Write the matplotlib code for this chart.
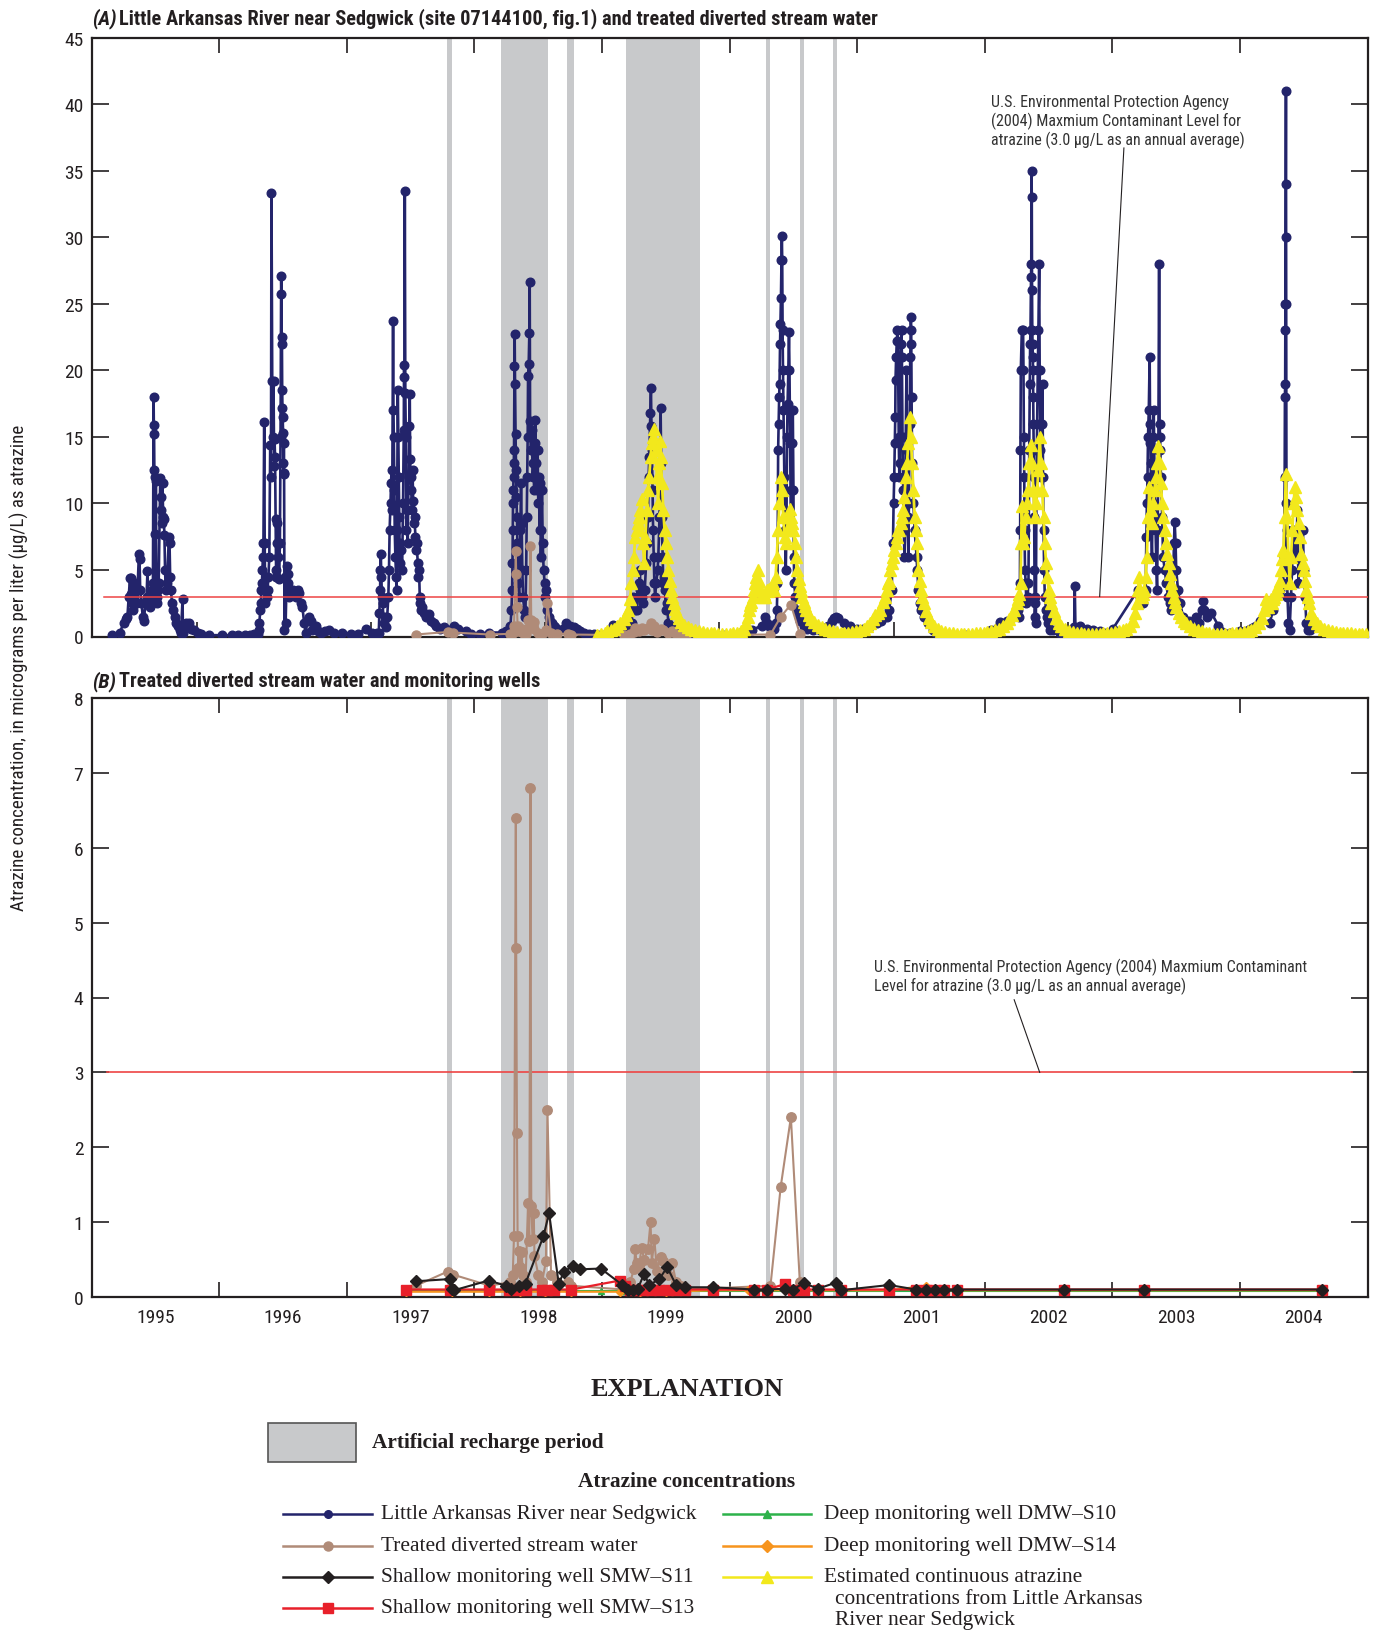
import matplotlib
matplotlib.use("Agg")
import matplotlib.pyplot as plt
from matplotlib import font_manager as fm
from matplotlib.lines import Line2D
from matplotlib.patches import Rectangle
import numpy as np

# ---------------------------------------------------------------- data
# Artificial recharge periods (decimal year start, end)
recharge_periods = [(1997.785, 1997.824), (1998.207, 1998.574), (1998.723, 1998.777),
                    (1999.184, 1999.770), (2000.285, 2000.316), (2000.551, 2000.582),
                    (2000.809, 2000.840)]

mcl_value = 3.0

# Little Arkansas River near Sedgwick (decimal year, atrazine ug/L)
river_samples = [
    (1995.16, 0.1), (1995.22, 0.3), (1995.25, 1.0), (1995.27, 1.3), (1995.28, 1.5), (1995.29, 3.0),
    (1995.30, 4.4), (1995.305, 3.2), (1995.31, 4.4), (1995.315, 2.5), (1995.32, 2.0), (1995.33, 3.0),
    (1995.34, 4.0), (1995.345, 3.5), (1995.355, 2.5), (1995.37, 6.2), (1995.375, 5.8), (1995.38, 3.5),
    (1995.39, 2.5), (1995.40, 1.5), (1995.41, 1.2), (1995.42, 2.5), (1995.43, 3.0), (1995.437, 4.9),
    (1995.445, 3.0), (1995.455, 2.2), (1995.465, 2.8), (1995.475, 3.5), (1995.48, 4.0), (1995.485, 18.0),
    (1995.487, 15.9), (1995.489, 15.2), (1995.491, 12.5), (1995.493, 12.0), (1995.495, 7.7), (1995.498, 4.0),
    (1995.503, 11.7), (1995.508, 3.0), (1995.515, 2.5), (1995.52, 3.5), (1995.525, 4.0), (1995.537, 11.9),
    (1995.54, 10.5), (1995.545, 9.5), (1995.55, 8.5), (1995.555, 11.5), (1995.56, 9.0), (1995.565, 8.8),
    (1995.57, 7.6), (1995.575, 5.0), (1995.58, 3.5), (1995.59, 4.0), (1995.605, 7.5), (1995.61, 7.0),
    (1995.615, 4.5), (1995.62, 3.5), (1995.63, 2.5), (1995.64, 2.0), (1995.65, 1.5), (1995.66, 1.0),
    (1995.675, 0.8), (1995.69, 0.5), (1995.70, 0.3), (1995.712, 2.8), (1995.715, 0.3), (1995.72, 0.8),
    (1995.738, 1.0), (1995.764, 1.0), (1995.78, 0.6), (1995.803, 0.5), (1995.83, 0.3), (1995.855, 0.2),
    (1995.92, 0.1), (1996.025, 0.1), (1996.10, 0.1),
    (1996.15, 0.1), (1996.20, 0.1), (1996.24, 0.15), (1996.27, 0.2), (1996.30, 0.2), (1996.31, 0.5),
    (1996.315, 1.0), (1996.32, 2.0), (1996.325, 2.5), (1996.33, 3.5), (1996.334, 4.0), (1996.338, 5.0),
    (1996.342, 6.0), (1996.346, 7.0), (1996.352, 16.1), (1996.356, 7.0), (1996.36, 2.5), (1996.365, 4.5),
    (1996.372, 3.0), (1996.378, 3.5), (1996.385, 4.5), (1996.392, 6.0), (1996.399, 14.4), (1996.405, 12.0),
    (1996.409, 33.3), (1996.415, 19.2), (1996.42, 15.0), (1996.425, 19.2), (1996.43, 12.8), (1996.433, 14.8),
    (1996.437, 13.5), (1996.441, 8.8), (1996.445, 5.0), (1996.448, 4.5), (1996.452, 7.0), (1996.456, 8.5),
    (1996.462, 6.0), (1996.469, 4.3), (1996.475, 7.0), (1996.480, 15.0), (1996.485, 27.1), (1996.487, 25.7),
    (1996.489, 22.5), (1996.491, 22.0), (1996.493, 18.5), (1996.495, 17.2), (1996.497, 16.5), (1996.50, 15.3),
    (1996.502, 13.0), (1996.504, 12.3), (1996.506, 14.5), (1996.508, 12.2), (1996.511, 0.5), (1996.515, 4.5),
    (1996.52, 1.0), (1996.53, 5.3), (1996.535, 4.0), (1996.54, 4.7), (1996.548, 3.0), (1996.56, 3.5),
    (1996.574, 3.5), (1996.59, 3.2), (1996.60, 3.0), (1996.615, 3.5), (1996.626, 3.3), (1996.64, 2.5),
    (1996.652, 2.2), (1996.665, 1.0), (1996.678, 0.3), (1996.69, 1.2), (1996.704, 1.5), (1996.72, 1.2),
    (1996.73, 0.5), (1996.745, 0.8), (1996.756, 0.8), (1996.775, 0.4), (1996.795, 0.3), (1996.83, 0.4),
    (1996.86, 0.5), (1996.90, 0.3), (1996.965, 0.3),
    (1997.03, 0.2), (1997.09, 0.2), (1997.146, 0.6), (1997.198, 0.3), (1997.237, 0.3), (1997.25, 0.3),
    (1997.255, 1.8), (1997.26, 3.5), (1997.263, 5.0), (1997.266, 6.2), (1997.27, 4.5), (1997.275, 3.0),
    (1997.28, 2.5), (1997.289, 1.0), (1997.30, 1.5), (1997.31, 0.7), (1997.316, 1.5), (1997.325, 3.0),
    (1997.33, 5.0), (1997.335, 8.0), (1997.342, 10.0), (1997.346, 11.5), (1997.35, 12.5), (1997.355, 9.5),
    (1997.362, 23.7), (1997.365, 17.0), (1997.368, 15.0), (1997.372, 11.0), (1997.375, 8.0), (1997.38, 6.0),
    (1997.385, 4.5), (1997.389, 3.5), (1997.393, 8.0), (1997.399, 18.5), (1997.403, 15.0), (1997.406, 12.0),
    (1997.409, 9.0), (1997.413, 7.0), (1997.42, 5.5), (1997.427, 6.5), (1997.433, 5.0), (1997.44, 10.0),
    (1997.446, 15.5), (1997.448, 20.4), (1997.451, 19.5), (1997.454, 33.5), (1997.458, 18.3), (1997.462, 15.0),
    (1997.465, 8.0), (1997.47, 9.5), (1997.477, 7.0), (1997.483, 12.0), (1997.488, 15.8), (1997.493, 18.2),
    (1997.496, 13.3), (1997.50, 12.0), (1997.506, 11.0), (1997.51, 9.5), (1997.515, 12.5), (1997.519, 10.2),
    (1997.525, 8.5), (1997.53, 9.0), (1997.537, 7.5), (1997.54, 6.5), (1997.548, 7.0), (1997.555, 5.5),
    (1997.56, 4.5), (1997.566, 5.0), (1997.571, 3.0), (1997.576, 2.5), (1997.581, 2.0), (1997.59, 2.2),
    (1997.602, 1.8), (1997.62, 1.5), (1997.641, 1.7), (1997.66, 1.2), (1997.681, 1.0), (1997.70, 0.8),
    (1997.733, 0.6), (1997.76, 0.7), (1997.798, 0.5), (1997.837, 0.8),
    (1997.87, 0.6), (1997.93, 0.4), (1997.97, 0.2), (1998.047, 0.2), (1998.112, 0.3), (1998.216, 0.3),
    (1998.25, 0.4), (1998.282, 0.8), (1998.29, 2.0), (1998.295, 3.5), (1998.298, 5.5), (1998.30, 8.0),
    (1998.302, 10.0), (1998.304, 11.0), (1998.306, 12.0), (1998.308, 13.0), (1998.31, 14.0), (1998.313, 20.3),
    (1998.315, 22.7), (1998.318, 19.0), (1998.322, 15.2), (1998.326, 12.5), (1998.329, 10.5), (1998.333, 9.0),
    (1998.336, 7.0), (1998.339, 5.0), (1998.345, 4.0), (1998.35, 3.0), (1998.355, 5.0), (1998.36, 8.0),
    (1998.365, 11.5), (1998.37, 8.5), (1998.375, 5.0), (1998.381, 3.0), (1998.39, 2.0), (1998.399, 1.5),
    (1998.405, 5.0), (1998.41, 9.0), (1998.414, 12.0), (1998.417, 15.0), (1998.42, 19.6), (1998.425, 20.5),
    (1998.43, 22.8), (1998.433, 26.6), (1998.436, 16.2), (1998.44, 15.0), (1998.443, 14.0), (1998.447, 15.5),
    (1998.452, 14.0), (1998.457, 12.0), (1998.462, 13.0), (1998.468, 11.0), (1998.473, 14.5), (1998.477, 16.3),
    (1998.482, 13.0), (1998.487, 11.0), (1998.491, 12.0), (1998.495, 14.0), (1998.50, 10.0), (1998.505, 12.0),
    (1998.51, 8.0), (1998.516, 11.5), (1998.52, 6.0), (1998.525, 8.0), (1998.529, 11.0), (1998.535, 7.0),
    (1998.542, 5.0), (1998.55, 4.0), (1998.556, 3.0), (1998.563, 3.5), (1998.572, 2.0), (1998.581, 1.5),
    (1998.595, 1.2), (1998.608, 1.0), (1998.62, 0.8), (1998.634, 0.7), (1998.66, 0.5), (1998.69, 0.6),
    (1998.72, 1.0), (1998.75, 0.8), (1998.78, 0.7), (1998.803, 0.6), (1998.83, 0.4), (1998.855, 0.3),
    (1998.90, 0.2), (1998.934, 0.2), (1998.97, 0.1), (1999.012, 0.1),
    (1999.05, 0.3), (1999.083, 0.9), (1999.12, 0.5), (1999.154, 0.3), (1999.20, 0.6), (1999.232, 1.0),
    (1999.24, 2.5), (1999.245, 3.0), (1999.26, 2.0), (1999.271, 2.0), (1999.28, 3.0), (1999.29, 4.0),
    (1999.297, 5.0), (1999.30, 3.5), (1999.31, 3.0), (1999.323, 2.5), (1999.335, 3.5), (1999.345, 5.5),
    (1999.35, 7.0), (1999.36, 9.0), (1999.365, 12.0), (1999.37, 13.5), (1999.378, 16.8), (1999.383, 18.7),
    (1999.387, 15.8), (1999.39, 14.0), (1999.396, 11.0), (1999.40, 8.0), (1999.405, 6.0), (1999.41, 4.0),
    (1999.415, 3.0), (1999.425, 4.0), (1999.435, 5.0), (1999.441, 6.0), (1999.45, 9.0), (1999.455, 13.0),
    (1999.459, 17.2), (1999.463, 13.0), (1999.467, 9.0), (1999.47, 8.0), (1999.475, 6.0), (1999.48, 4.0),
    (1999.487, 4.5), (1999.493, 3.5), (1999.50, 2.0), (1999.51, 2.5), (1999.519, 1.0), (1999.54, 0.8),
    (1999.558, 0.5), (1999.61, 0.3), (1999.714, 0.2), (1999.819, 0.1), (1999.949, 0.1),
    (2000.083, 0.3), (2000.175, 0.5), (2000.25, 0.8), (2000.279, 1.5), (2000.29, 1.0), (2000.31, 0.8),
    (2000.344, 0.6), (2000.36, 1.0), (2000.37, 2.0), (2000.375, 4.0), (2000.38, 14.0), (2000.384, 16.0),
    (2000.388, 18.0), (2000.391, 19.0), (2000.395, 22.0), (2000.398, 23.5), (2000.402, 25.4), (2000.406, 28.3),
    (2000.409, 30.1), (2000.412, 28.3), (2000.415, 23.0), (2000.418, 20.0), (2000.422, 17.0), (2000.428, 12.0),
    (2000.434, 8.0), (2000.44, 5.0), (2000.445, 8.0), (2000.45, 15.0), (2000.454, 17.5), (2000.46, 20.0),
    (2000.465, 22.9), (2000.469, 20.0), (2000.474, 14.5), (2000.477, 11.0), (2000.48, 8.0), (2000.485, 11.0),
    (2000.49, 14.5), (2000.495, 17.0), (2000.50, 11.0), (2000.503, 6.0), (2000.506, 4.0), (2000.515, 3.0),
    (2000.527, 2.0), (2000.54, 1.5), (2000.553, 1.2), (2000.58, 0.8), (2000.605, 0.6), (2000.65, 0.5),
    (2000.709, 0.5), (2000.77, 0.8), (2000.80, 1.2), (2000.814, 1.4), (2000.83, 1.5), (2000.853, 1.4),
    (2000.90, 1.0), (2000.944, 0.8), (2001.0, 0.6), (2001.048, 0.6), (2001.10, 0.8), (2001.152, 1.0),
    (2001.19, 1.2), (2001.23, 1.5), (2001.25, 2.0), (2001.27, 3.5), (2001.28, 7.0), (2001.285, 10.0),
    (2001.29, 12.0), (2001.294, 14.5), (2001.298, 16.5), (2001.30, 19.3), (2001.305, 21.0), (2001.31, 22.2),
    (2001.314, 23.0), (2001.32, 21.0), (2001.325, 15.0), (2001.33, 12.0), (2001.335, 13.0), (2001.34, 22.0),
    (2001.347, 23.0), (2001.35, 21.0), (2001.355, 15.0), (2001.36, 11.0), (2001.365, 8.0), (2001.37, 6.0),
    (2001.375, 8.0), (2001.38, 15.0), (2001.386, 20.0), (2001.39, 14.0), (2001.395, 9.0), (2001.40, 6.0),
    (2001.405, 10.0), (2001.41, 16.0), (2001.415, 21.0), (2001.418, 22.0), (2001.42, 24.0), (2001.423, 23.0),
    (2001.426, 18.0), (2001.43, 13.0), (2001.44, 10.0), (2001.45, 8.0), (2001.465, 6.0), (2001.47, 5.0),
    (2001.48, 3.5), (2001.491, 2.5), (2001.50, 2.0), (2001.52, 1.5), (2001.556, 1.0), (2001.59, 0.5),
    (2001.621, 0.3), (2001.674, 0.2), (2001.752, 0.1), (2001.85, 0.1), (2001.95, 0.1),
    (2002.05, 0.5), (2002.117, 1.1), (2002.17, 1.2), (2002.22, 1.5), (2002.261, 2.0), (2002.268, 1.5),
    (2002.272, 2.5), (2002.275, 4.0), (2002.277, 8.0), (2002.279, 14.0), (2002.282, 20.0), (2002.29, 23.0),
    (2002.30, 23.0), (2002.303, 20.0), (2002.306, 15.0), (2002.309, 12.0), (2002.311, 8.0), (2002.315, 5.0),
    (2002.32, 4.0), (2002.326, 2.5), (2002.335, 3.0), (2002.342, 4.0), (2002.348, 14.0), (2002.352, 19.0),
    (2002.355, 22.0), (2002.358, 23.0), (2002.362, 27.0), (2002.364, 28.0), (2002.366, 35.0), (2002.368, 33.0),
    (2002.37, 26.0), (2002.372, 23.0), (2002.374, 22.0), (2002.376, 21.0), (2002.378, 20.0), (2002.379, 18.0),
    (2002.381, 16.0), (2002.383, 14.0), (2002.385, 12.0), (2002.387, 9.0), (2002.389, 5.0), (2002.39, 3.0),
    (2002.392, 1.5), (2002.396, 2.5), (2002.40, 1.0), (2002.405, 12.0), (2002.41, 16.0), (2002.415, 20.0),
    (2002.42, 23.0), (2002.426, 28.0), (2002.43, 20.0), (2002.436, 14.0), (2002.44, 12.0), (2002.445, 16.0),
    (2002.452, 19.0), (2002.456, 12.0), (2002.46, 8.0), (2002.465, 5.0), (2002.47, 3.0), (2002.48, 2.0),
    (2002.49, 1.5), (2002.496, 1.0), (2002.51, 0.5), (2002.535, 0.5), (2002.587, 0.3), (2002.64, 0.2),
    (2002.70, 0.7), (2002.705, 3.8), (2002.71, 0.7), (2002.744, 0.8), (2002.80, 0.6), (2002.849, 0.5),
    (2002.90, 0.4), (2002.953, 0.3), (2003.005, 0.6),
    (2003.20, 3.5), (2003.214, 3.0), (2003.24, 2.5), (2003.26, 3.5), (2003.266, 7.5), (2003.27, 10.0),
    (2003.275, 12.0), (2003.279, 15.0), (2003.285, 17.0), (2003.292, 21.0), (2003.295, 16.0), (2003.298, 14.5),
    (2003.30, 13.0), (2003.303, 10.0), (2003.305, 8.0), (2003.31, 6.0), (2003.315, 10.0), (2003.32, 15.0),
    (2003.324, 17.0), (2003.33, 12.0), (2003.338, 8.0), (2003.345, 5.0), (2003.35, 3.5), (2003.355, 8.0),
    (2003.36, 14.0), (2003.366, 28.0), (2003.37, 16.0), (2003.373, 15.0), (2003.376, 14.0), (2003.38, 12.0),
    (2003.39, 9.0), (2003.397, 6.0), (2003.41, 5.0), (2003.423, 4.0), (2003.435, 3.0), (2003.449, 2.5),
    (2003.46, 2.0), (2003.475, 3.0), (2003.482, 7.0), (2003.488, 8.6), (2003.495, 7.0), (2003.50, 5.0),
    (2003.514, 3.5), (2003.53, 2.5), (2003.554, 1.5), (2003.60, 1.2), (2003.658, 1.5), (2003.68, 1.0),
    (2003.70, 2.0), (2003.71, 2.7), (2003.72, 2.0), (2003.74, 1.5), (2003.775, 1.8), (2003.83, 0.8),
    (2003.919, 0.3), (2004.0, 0.4),
    (2004.154, 1.2), (2004.232, 1.0), (2004.26, 2.0), (2004.285, 3.0), (2004.31, 3.5), (2004.337, 4.0),
    (2004.345, 6.0), (2004.35, 12.0), (2004.352, 18.0), (2004.354, 19.0), (2004.355, 23.0), (2004.356, 25.0),
    (2004.357, 30.0), (2004.358, 34.0), (2004.36, 41.0), (2004.362, 25.0), (2004.364, 10.0), (2004.366, 8.0),
    (2004.368, 5.0), (2004.372, 3.0), (2004.38, 1.0), (2004.389, 0.5), (2004.40, 3.0), (2004.408, 5.0),
    (2004.415, 8.0), (2004.425, 6.0), (2004.435, 7.5), (2004.441, 6.0), (2004.45, 9.5), (2004.458, 4.0),
    (2004.467, 6.0), (2004.48, 5.0), (2004.493, 8.0), (2004.50, 5.0), (2004.51, 3.0), (2004.52, 1.0),
    (2004.535, 0.5), (2004.546, 0.5),
]

# Estimated continuous atrazine concentrations from the river record
estimated_samples = [
    (1998.96, 0.1), (1998.99, 0.2), (1999.02, 0.3), (1999.04, 0.4), (1999.07, 0.5), (1999.09, 0.6),
    (1999.12, 0.8), (1999.14, 1.0), (1999.17, 1.3), (1999.19, 1.6), (1999.207, 2.0), (1999.22, 2.8),
    (1999.23, 4.0), (1999.24, 5.0), (1999.25, 6.0), (1999.26, 7.5), (1999.27, 8.0), (1999.28, 8.5),
    (1999.29, 9.0), (1999.30, 9.5), (1999.31, 10.3), (1999.32, 7.0), (1999.33, 5.5), (1999.34, 7.5),
    (1999.35, 9.5), (1999.36, 11.0), (1999.37, 12.0), (1999.38, 13.5), (1999.39, 14.5), (1999.40, 15.0),
    (1999.41, 15.6), (1999.42, 14.0), (1999.43, 12.0), (1999.44, 10.0), (1999.45, 13.0), (1999.455, 14.7),
    (1999.46, 13.5), (1999.47, 11.5), (1999.48, 9.5), (1999.49, 8.0), (1999.50, 7.0), (1999.51, 6.0),
    (1999.52, 5.0), (1999.53, 4.2), (1999.54, 3.5), (1999.55, 3.0), (1999.56, 2.5), (1999.57, 2.1),
    (1999.58, 1.8), (1999.60, 1.4), (1999.62, 1.1), (1999.64, 0.9), (1999.67, 0.7), (1999.70, 0.6),
    (1999.73, 0.5), (1999.76, 0.4), (1999.79, 0.35), (1999.82, 0.3), (1999.85, 0.25), (1999.88, 0.25),
    (1999.91, 0.2), (1999.94, 0.2), (1999.97, 0.2), (2000.00, 0.2), (2000.03, 0.25), (2000.06, 0.3),
    (2000.09, 0.4), (2000.11, 0.6), (2000.13, 1.0), (2000.14, 1.5), (2000.15, 2.0), (2000.16, 2.4),
    (2000.17, 2.6), (2000.18, 3.0), (2000.19, 3.5), (2000.20, 4.0), (2000.21, 4.5), (2000.22, 5.0),
    (2000.23, 4.2), (2000.24, 3.6), (2000.25, 3.2), (2000.26, 3.0), (2000.27, 3.2), (2000.28, 3.0),
    (2000.29, 3.5), (2000.30, 3.4), (2000.31, 3.6), (2000.32, 3.5), (2000.33, 3.8), (2000.34, 4.0),
    (2000.35, 3.5), (2000.36, 4.5), (2000.37, 6.0), (2000.38, 8.0), (2000.39, 10.0), (2000.40, 12.0),
    (2000.41, 11.0), (2000.42, 9.0), (2000.43, 7.5), (2000.44, 7.0), (2000.45, 8.0), (2000.46, 9.0),
    (2000.47, 9.6), (2000.48, 9.0), (2000.49, 8.5), (2000.50, 8.0), (2000.51, 7.0), (2000.52, 6.0),
    (2000.53, 5.0), (2000.54, 4.3), (2000.55, 3.8), (2000.56, 3.4), (2000.57, 3.0), (2000.58, 2.6),
    (2000.59, 2.3), (2000.60, 2.0), (2000.62, 1.6), (2000.64, 1.3), (2000.66, 1.1), (2000.69, 0.9),
    (2000.72, 0.7), (2000.75, 0.6), (2000.78, 0.5), (2000.81, 0.4), (2000.84, 0.35), (2000.87, 0.3),
    (2000.90, 0.3), (2000.93, 0.3), (2000.96, 0.35), (2000.99, 0.4), (2001.02, 0.5), (2001.05, 0.6),
    (2001.08, 0.8), (2001.10, 1.0), (2001.12, 1.3), (2001.14, 1.6), (2001.16, 1.8), (2001.18, 2.0),
    (2001.20, 2.6), (2001.22, 3.0), (2001.23, 3.5), (2001.24, 4.0), (2001.25, 4.2), (2001.26, 5.0),
    (2001.27, 5.5), (2001.28, 6.0), (2001.29, 6.5), (2001.30, 7.0), (2001.31, 7.5), (2001.32, 8.0),
    (2001.33, 8.0), (2001.34, 8.5), (2001.35, 9.0), (2001.36, 9.5), (2001.37, 10.5), (2001.38, 12.0),
    (2001.39, 13.0), (2001.40, 14.5), (2001.41, 16.5), (2001.42, 15.0), (2001.43, 13.0), (2001.44, 11.0),
    (2001.45, 9.0), (2001.46, 8.0), (2001.47, 7.0), (2001.48, 5.0), (2001.49, 4.2), (2001.50, 3.5),
    (2001.51, 3.0), (2001.52, 2.5), (2001.54, 1.9), (2001.56, 1.4), (2001.58, 1.1), (2001.60, 0.8),
    (2001.63, 0.6), (2001.66, 0.45), (2001.69, 0.35), (2001.72, 0.3), (2001.75, 0.25), (2001.78, 0.2),
    (2001.81, 0.2), (2001.84, 0.2), (2001.87, 0.2), (2001.90, 0.2), (2001.93, 0.25), (2001.96, 0.3),
    (2001.99, 0.3), (2002.02, 0.35), (2002.05, 0.4), (2002.08, 0.5), (2002.11, 0.6), (2002.14, 0.8),
    (2002.17, 1.0), (2002.19, 1.3), (2002.21, 1.6), (2002.23, 2.0), (2002.25, 2.5), (2002.26, 2.8),
    (2002.27, 3.2), (2002.28, 4.0), (2002.285, 7.0), (2002.29, 9.8), (2002.30, 7.0), (2002.31, 7.5),
    (2002.32, 9.0), (2002.33, 10.0), (2002.34, 11.0), (2002.35, 13.0), (2002.36, 14.4), (2002.37, 13.0),
    (2002.38, 11.0), (2002.39, 9.0), (2002.40, 10.0), (2002.41, 11.0), (2002.42, 12.5), (2002.43, 15.0),
    (2002.44, 13.0), (2002.45, 11.0), (2002.46, 9.0), (2002.47, 7.0), (2002.48, 5.5), (2002.49, 4.5),
    (2002.50, 3.5), (2002.51, 3.0), (2002.52, 2.5), (2002.54, 1.9), (2002.56, 1.4), (2002.58, 1.0),
    (2002.60, 0.8), (2002.63, 0.6), (2002.66, 0.45), (2002.69, 0.35), (2002.72, 0.3), (2002.75, 0.25),
    (2002.78, 0.2), (2002.81, 0.2), (2002.84, 0.2), (2002.87, 0.2), (2002.90, 0.2), (2002.93, 0.25),
    (2002.96, 0.3), (2002.99, 0.3), (2003.02, 0.35), (2003.05, 0.4), (2003.08, 0.5), (2003.11, 0.6),
    (2003.14, 0.8), (2003.16, 1.2), (2003.18, 1.8), (2003.19, 2.5), (2003.20, 3.5), (2003.21, 4.5),
    (2003.22, 3.5), (2003.23, 3.0), (2003.24, 3.2), (2003.25, 3.5), (2003.26, 4.5), (2003.27, 6.0),
    (2003.28, 9.0), (2003.29, 11.2), (2003.30, 9.5), (2003.31, 8.5), (2003.32, 10.0), (2003.33, 11.0),
    (2003.34, 12.0), (2003.35, 13.0), (2003.36, 14.3), (2003.37, 13.0), (2003.38, 11.5), (2003.39, 10.0),
    (2003.40, 9.0), (2003.41, 8.0), (2003.42, 7.0), (2003.43, 6.2), (2003.44, 5.5), (2003.45, 4.7),
    (2003.46, 4.0), (2003.47, 3.5), (2003.48, 3.0), (2003.49, 2.6), (2003.50, 2.2), (2003.52, 1.8),
    (2003.54, 1.5), (2003.56, 1.2), (2003.58, 1.0), (2003.61, 0.8), (2003.64, 0.6), (2003.67, 0.5),
    (2003.70, 0.4), (2003.73, 0.3), (2003.76, 0.25), (2003.79, 0.2), (2003.82, 0.2), (2003.85, 0.2),
    (2003.88, 0.2), (2003.91, 0.2), (2003.94, 0.25), (2003.97, 0.3), (2004.00, 0.3), (2004.03, 0.35),
    (2004.06, 0.4), (2004.09, 0.5), (2004.12, 0.7), (2004.15, 1.0), (2004.17, 1.4), (2004.19, 2.0),
    (2004.20, 2.8), (2004.21, 2.5), (2004.22, 2.2), (2004.23, 2.5), (2004.24, 2.8), (2004.25, 2.5),
    (2004.26, 2.8), (2004.27, 3.0), (2004.28, 3.2), (2004.29, 3.5), (2004.30, 3.8), (2004.31, 4.2),
    (2004.32, 5.0), (2004.33, 5.8), (2004.34, 6.5), (2004.35, 9.0), (2004.36, 12.2), (2004.37, 9.0),
    (2004.38, 6.0), (2004.39, 4.0), (2004.40, 6.0), (2004.41, 8.0), (2004.42, 10.0), (2004.43, 11.2),
    (2004.44, 10.5), (2004.45, 9.5), (2004.46, 8.5), (2004.47, 7.5), (2004.48, 6.2), (2004.49, 5.5),
    (2004.50, 5.0), (2004.51, 4.2), (2004.52, 3.5), (2004.53, 3.0), (2004.54, 2.5), (2004.56, 1.8),
    (2004.58, 1.3), (2004.60, 1.0), (2004.63, 0.8), (2004.66, 0.6), (2004.69, 0.5), (2004.72, 0.4),
    (2004.75, 0.35), (2004.78, 0.3), (2004.81, 0.3), (2004.84, 0.25), (2004.87, 0.25), (2004.90, 0.2),
    (2004.93, 0.2), (2004.96, 0.2), (2004.99, 0.2),
]

# Treated diverted stream water
treated_samples = [
    (1997.54, 0.15), (1997.79, 0.34), (1997.83, 0.30), (1998.12, 0.15), (1998.28, 0.2), (1998.30, 0.3),
    (1998.31, 0.82), (1998.324, 6.4), (1998.327, 4.66), (1998.333, 2.19), (1998.338, 0.81), (1998.345, 0.39),
    (1998.35, 0.61), (1998.36, 0.4), (1998.37, 0.6), (1998.38, 0.3), (1998.40, 0.2), (1998.42, 1.25),
    (1998.43, 0.75), (1998.439, 6.8), (1998.445, 1.21), (1998.455, 0.77), (1998.465, 1.12), (1998.47, 0.55),
    (1998.50, 0.3), (1998.53, 0.2), (1998.56, 0.48), (1998.572, 2.5), (1998.60, 0.3), (1998.65, 0.2),
    (1998.73, 0.2), (1998.76, 0.15), (1999.17, 0.1), (1999.22, 0.2), (1999.25, 0.37), (1999.26, 0.64),
    (1999.27, 0.46), (1999.29, 0.42), (1999.31, 0.66), (1999.33, 0.5), (1999.36, 0.64), (1999.38, 1.0),
    (1999.39, 0.46), (1999.41, 0.77), (1999.43, 0.35), (1999.46, 0.53), (1999.48, 0.48), (1999.52, 0.3),
    (1999.55, 0.45), (1999.58, 0.2), (1999.62, 0.15), (1999.66, 0.1), (2000.32, 0.15), (2000.40, 1.47),
    (2000.48, 2.40), (2000.55, 0.2),
]

# Shallow monitoring well SMW-S11
smw_s11 = [
    (1997.54, 0.21), (1997.81, 0.24), (1997.82, 0.11), (1997.84, 0.09), (1998.11, 0.22), (1998.25, 0.15),
    (1998.29, 0.11), (1998.35, 0.15), (1998.40, 0.18), (1998.54, 0.81), (1998.585, 1.12), (1998.66, 0.18),
    (1998.70, 0.33), (1998.77, 0.42), (1998.83, 0.37), (1998.99, 0.38), (1999.16, 0.16), (1999.20, 0.09),
    (1999.24, 0.09), (1999.28, 0.11), (1999.33, 0.31), (1999.37, 0.16), (1999.45, 0.24), (1999.51, 0.40),
    (1999.58, 0.16), (1999.65, 0.13), (1999.87, 0.13), (2000.19, 0.10), (2000.29, 0.10), (2000.43, 0.11),
    (2000.50, 0.10), (2000.58, 0.19), (2000.69, 0.11), (2000.83, 0.19), (2000.87, 0.09), (2001.25, 0.16),
    (2001.46, 0.10), (2001.54, 0.10), (2001.61, 0.10), (2001.68, 0.10), (2001.78, 0.10), (2002.62, 0.10),
    (2003.25, 0.10), (2004.64, 0.10),
]

# Shallow monitoring well SMW-S13
smw_s13 = [
    (1997.46, 0.1), (1997.81, 0.1), (1998.11, 0.1), (1998.27, 0.1), (1998.35, 0.1), (1998.40, 0.1),
    (1998.53, 0.1), (1998.57, 0.1), (1998.62, 0.1), (1998.76, 0.1), (1999.14, 0.22), (1999.18, 0.15),
    (1999.22, 0.1), (1999.27, 0.1), (1999.32, 0.1), (1999.38, 0.1), (1999.45, 0.1), (1999.52, 0.1),
    (1999.58, 0.1), (1999.65, 0.1), (1999.87, 0.1), (2000.19, 0.1), (2000.29, 0.1), (2000.43, 0.17),
    (2000.50, 0.1), (2000.58, 0.1), (2000.69, 0.1), (2000.87, 0.1), (2001.25, 0.1), (2001.46, 0.1),
    (2001.54, 0.1), (2001.61, 0.1), (2001.68, 0.1), (2001.78, 0.1), (2002.62, 0.1), (2003.25, 0.1),
    (2004.64, 0.1),
]

# Deep monitoring well DMW-S10
dmw_s10 = [
    (1997.47, 0.08), (1997.82, 0.08), (1998.11, 0.08), (1998.28, 0.08), (1998.62, 0.08), (1998.75, 0.08),
    (1998.99, 0.08), (1999.17, 0.08), (1999.30, 0.08), (1999.50, 0.08), (1999.65, 0.08), (1999.87, 0.08),
    (2000.19, 0.08), (2000.50, 0.08), (2000.87, 0.08), (2001.25, 0.08), (2001.54, 0.08), (2002.62, 0.08),
    (2003.25, 0.08), (2004.64, 0.08),
]

# Deep monitoring well DMW-S14
dmw_s14 = [
    (1997.46, 0.07), (1997.82, 0.07), (1998.11, 0.07), (1998.36, 0.07), (1998.55, 0.07), (1998.76, 0.07),
    (1999.14, 0.07), (1999.30, 0.07), (1999.50, 0.07), (1999.87, 0.09), (2000.14, 0.09), (2000.43, 0.09),
    (2000.58, 0.09), (2000.87, 0.09), (2001.25, 0.09), (2001.54, 0.15), (2001.78, 0.09), (2002.62, 0.09),
    (2003.25, 0.09), (2004.64, 0.09),
]

year_labels = [str(y) for y in range(1995, 2005)]
panel_a_bottom_ticks = [1995.825, 1997.19, 1998.555, 1999.915, 2001.285, 2002.65, 2004.01]

# ---------------------------------------------------------------- styling
W, H = 1377, 1633
INK = "#231F20"
NAVY = "#23246B"
TAN = "#B08B78"
YELLOW = "#F2E81C"
RED_LINE = "#EE4444"
RED = "#E8202A"
GREEN = "#2DB24A"
ORANGE = "#F7941D"
GRAY = "#C8C9CB"


def pick_family(candidates):
    names = {f.name for f in fm.fontManager.ttflist}
    for c in candidates:
        if c in names:
            return c
    return "DejaVu Sans"


NARROW = pick_family(["Liberation Sans Narrow", "Roboto Condensed", "DejaVu Sans"])
SERIF = pick_family(["Liberation Serif", "DejaVu Serif"])


def narrow(size, weight="normal", style="normal"):
    if NARROW == "DejaVu Sans":
        return fm.FontProperties(family="DejaVu Sans", stretch="condensed", size=size,
                                 weight=weight, style=style)
    return fm.FontProperties(family=NARROW, size=size, weight=weight, style=style)


def serif(size, weight="normal"):
    return fm.FontProperties(family=SERIF, size=size, weight=weight)


def fx(px):
    return px / W


def fy(py):
    return 1 - py / H


def unzip(samples):
    arr = np.array(sorted(samples))
    return arr[:, 0], arr[:, 1]


fig = plt.figure(figsize=(W / 100, H / 100), dpi=100)
fig.patch.set_facecolor("white")

left_px, right_px = 91.7, 1367.6
axA = fig.add_axes([fx(left_px), fy(637.5), fx(right_px) - fx(left_px), fy(38.5) - fy(637.5)])
axB = fig.add_axes([fx(left_px), fy(1298), fx(right_px) - fx(left_px), fy(699) - fy(1298)])

year_bounds = list(range(1996, 2005))
mid_years = [y + 0.5 for y in range(1995, 2005)]

for ax in (axA, axB):
    ax.set_xlim(1995, 2005)
    for s in ax.spines.values():
        s.set_linewidth(1.6)
        s.set_color(INK)
    for a, b in recharge_periods:
        ax.axvspan(a, b, color=GRAY, lw=0, zorder=0)
    ax.tick_params(axis="y", which="major", direction="in", length=12, width=1.2,
                   left=True, right=True, labelleft=True, color=INK, labelcolor=INK, pad=6)

# Panel A axes
axA.set_ylim(0, 45)
axA.set_yticks(range(0, 46, 5))
axA.set_xticks(year_bounds)
axA.set_xticks(panel_a_bottom_ticks, minor=True)
axA.tick_params(axis="x", which="major", direction="in", length=11, width=1.2, top=True,
                bottom=False, labelbottom=False, labeltop=False, color=INK)
axA.tick_params(axis="x", which="minor", direction="in", length=11, width=1.2, top=False,
                bottom=True, labelbottom=False, color=INK)

# Panel B axes
axB.set_ylim(0, 8)
axB.set_yticks(range(0, 9))
axB.set_xticks(year_bounds)
axB.set_xticks(mid_years, minor=True)
axB.set_xticklabels(year_labels, minor=True)
axB.tick_params(axis="x", which="major", direction="in", length=11, width=1.2, top=True,
                bottom=True, labelbottom=False, color=INK)
axB.tick_params(axis="x", which="minor", length=0, top=False, bottom=True, labelbottom=True,
                labelcolor=INK, pad=8)

for ax in (axA, axB):
    for lab in ax.get_yticklabels() + ax.get_xticklabels(minor=True):
        lab.set_fontproperties(narrow(14))

# ---------------------------------------------------------------- panel A series
rx, rv = unzip(river_samples)
ex, ev = unzip(estimated_samples)
tx, tv = unzip(treated_samples)

axA.plot(rx, rv, color=NAVY, lw=1.9, marker="o", ms=6.2, mec=NAVY, mfc=NAVY, zorder=3)
axA.plot(tx, tv, color=TAN, lw=1.5, marker="o", ms=6.5, mec=TAN, mfc=TAN, zorder=4)
axA.axhline(mcl_value, xmin=0.01, xmax=1.0, color=RED_LINE, lw=1.1, zorder=5)
axA.plot(ex, ev, color=YELLOW, lw=2.0, marker="^", ms=8.8, mec=YELLOW, mfc=YELLOW, zorder=6)

# ---------------------------------------------------------------- panel B series
axB.axhline(mcl_value, xmin=0.012, xmax=0.988, color=RED_LINE, lw=1.2, zorder=2)
axB.plot(tx, tv, color=TAN, lw=1.5, marker="o", ms=6.8, mec=TAN, mfc=TAN, zorder=3)
gx, gv = unzip(dmw_s10)
axB.plot(gx, gv, color=GREEN, lw=1.5, marker="^", ms=5, mec=GREEN, mfc=GREEN, zorder=4)
ox, ov = unzip(dmw_s14)
axB.plot(ox, ov, color=ORANGE, lw=1.5, marker="D", ms=3.8, mec=ORANGE, mfc=ORANGE, zorder=4)
sx, sv = unzip(smw_s13)
axB.plot(sx, sv, color=RED, lw=1.6, marker="s", ms=7, mec=RED, mfc=RED, zorder=5)
kx, kv = unzip(smw_s11)
axB.plot(kx, kv, color=INK, lw=1.5, marker="D", ms=6.4, mec=INK, mfc=INK, zorder=6)

# ---------------------------------------------------------------- annotations
note_font = narrow(11.5)
axA.text(2002.05, 38.7, "U.S. Environmental Protection Agency\n(2004) Maxmium Contaminant Level for\n"
         "atrazine (3.0 \u00b5g/L as an annual average)", fontproperties=note_font, color="#333333",
         ha="left", va="center", linespacing=1.16, zorder=8)
axA.plot([2003.09, 2002.90], [36.7, mcl_value], color=INK, lw=0.8, zorder=8)

axB.text(2001.135, 4.29, "U.S. Environmental Protection Agency (2004) Maxmium Contaminant\n"
         "Level for atrazine (3.0 \u00b5g/L as an annual average)", fontproperties=note_font,
         color="#333333", ha="left", va="center", linespacing=1.16, zorder=8)
axB.plot([2002.23, 2002.43], [3.97, mcl_value], color=INK, lw=0.8, zorder=8)

# ---------------------------------------------------------------- titles and axis label
fig.canvas.draw()


def panel_title(y_px, tag, text):
    t1 = fig.text(fx(left_px), fy(y_px), tag, fontproperties=narrow(14.7, "bold", "italic"),
                  color=INK, ha="left", va="center")
    fig.canvas.draw()
    bb = t1.get_window_extent()
    fig.text((bb.x1 + 3) / W, fy(y_px), text, fontproperties=narrow(14.7, "bold"),
             color=INK, ha="left", va="center")


panel_title(19, "(A)", "Little Arkansas River near Sedgwick (site 07144100, fig.1) and treated diverted stream water")
panel_title(682, "(B)", "Treated diverted stream water and monitoring wells")

fig.text(fx(19), fy(668), "Atrazine concentration, in micrograms per liter (\u00b5g/L) as atrazine",
         fontproperties=narrow(13.7), color=INK, rotation=90, ha="center", va="center")

# ---------------------------------------------------------------- explanation
fig.text(fx(687), fy(1390), "EXPLANATION", fontproperties=serif(19, "bold"), color=INK,
         ha="center", va="center")
fig.add_artist(Rectangle((fx(268), fy(1463)), fx(356) - fx(268), fy(1424) - fy(1463),
                         transform=fig.transFigure, facecolor=GRAY, edgecolor="#555555", lw=1.2))
fig.text(fx(372), fy(1443), "Artificial recharge period", fontproperties=serif(15.3, "bold"),
         color=INK, ha="left", va="center")
fig.text(fx(687), fy(1482), "Atrazine concentrations", fontproperties=serif(15.3, "bold"),
         color=INK, ha="center", va="center")


def legend_entry(x0, x1, y, color, marker, ms, label, tx_px):
    fig.add_artist(Line2D([fx(x0), fx(x1)], [fy(y), fy(y)], transform=fig.transFigure,
                          color=color, lw=1.8))
    fig.add_artist(Line2D([fx((x0 + x1) / 2)], [fy(y)], transform=fig.transFigure, ls="none",
                          marker=marker, ms=ms, color=color, mec=color, mfc=color))
    fig.text(fx(tx_px), fy(y), label, fontproperties=serif(15.4), color=INK, ha="left",
             va="center")


legend_entry(283, 372, 1514.5, NAVY, "o", 5.5, "Little Arkansas River near Sedgwick", 381)
legend_entry(283, 372, 1547, TAN, "o", 6.5, "Treated diverted stream water", 381)
legend_entry(283, 372, 1578, INK, "D", 6, "Shallow monitoring well SMW\u2013S11", 381)
legend_entry(283, 372, 1609, RED, "s", 7, "Shallow monitoring well SMW\u2013S13", 381)
legend_entry(723, 811, 1514.5, GREEN, "^", 6, "Deep monitoring well DMW\u2013S10", 824)
legend_entry(723, 811, 1547, ORANGE, "D", 6, "Deep monitoring well DMW\u2013S14", 824)
legend_entry(723, 811, 1578, YELLOW, "^", 9, "Estimated continuous atrazine", 824)
fig.text(fx(835), fy(1600), "concentrations from Little Arkansas", fontproperties=serif(15.4),
         color=INK, ha="left", va="center")
fig.text(fx(835), fy(1621), "River near Sedgwick", fontproperties=serif(15.4), color=INK,
         ha="left", va="center")

fig.savefig("out.png", dpi=100, facecolor="white")
